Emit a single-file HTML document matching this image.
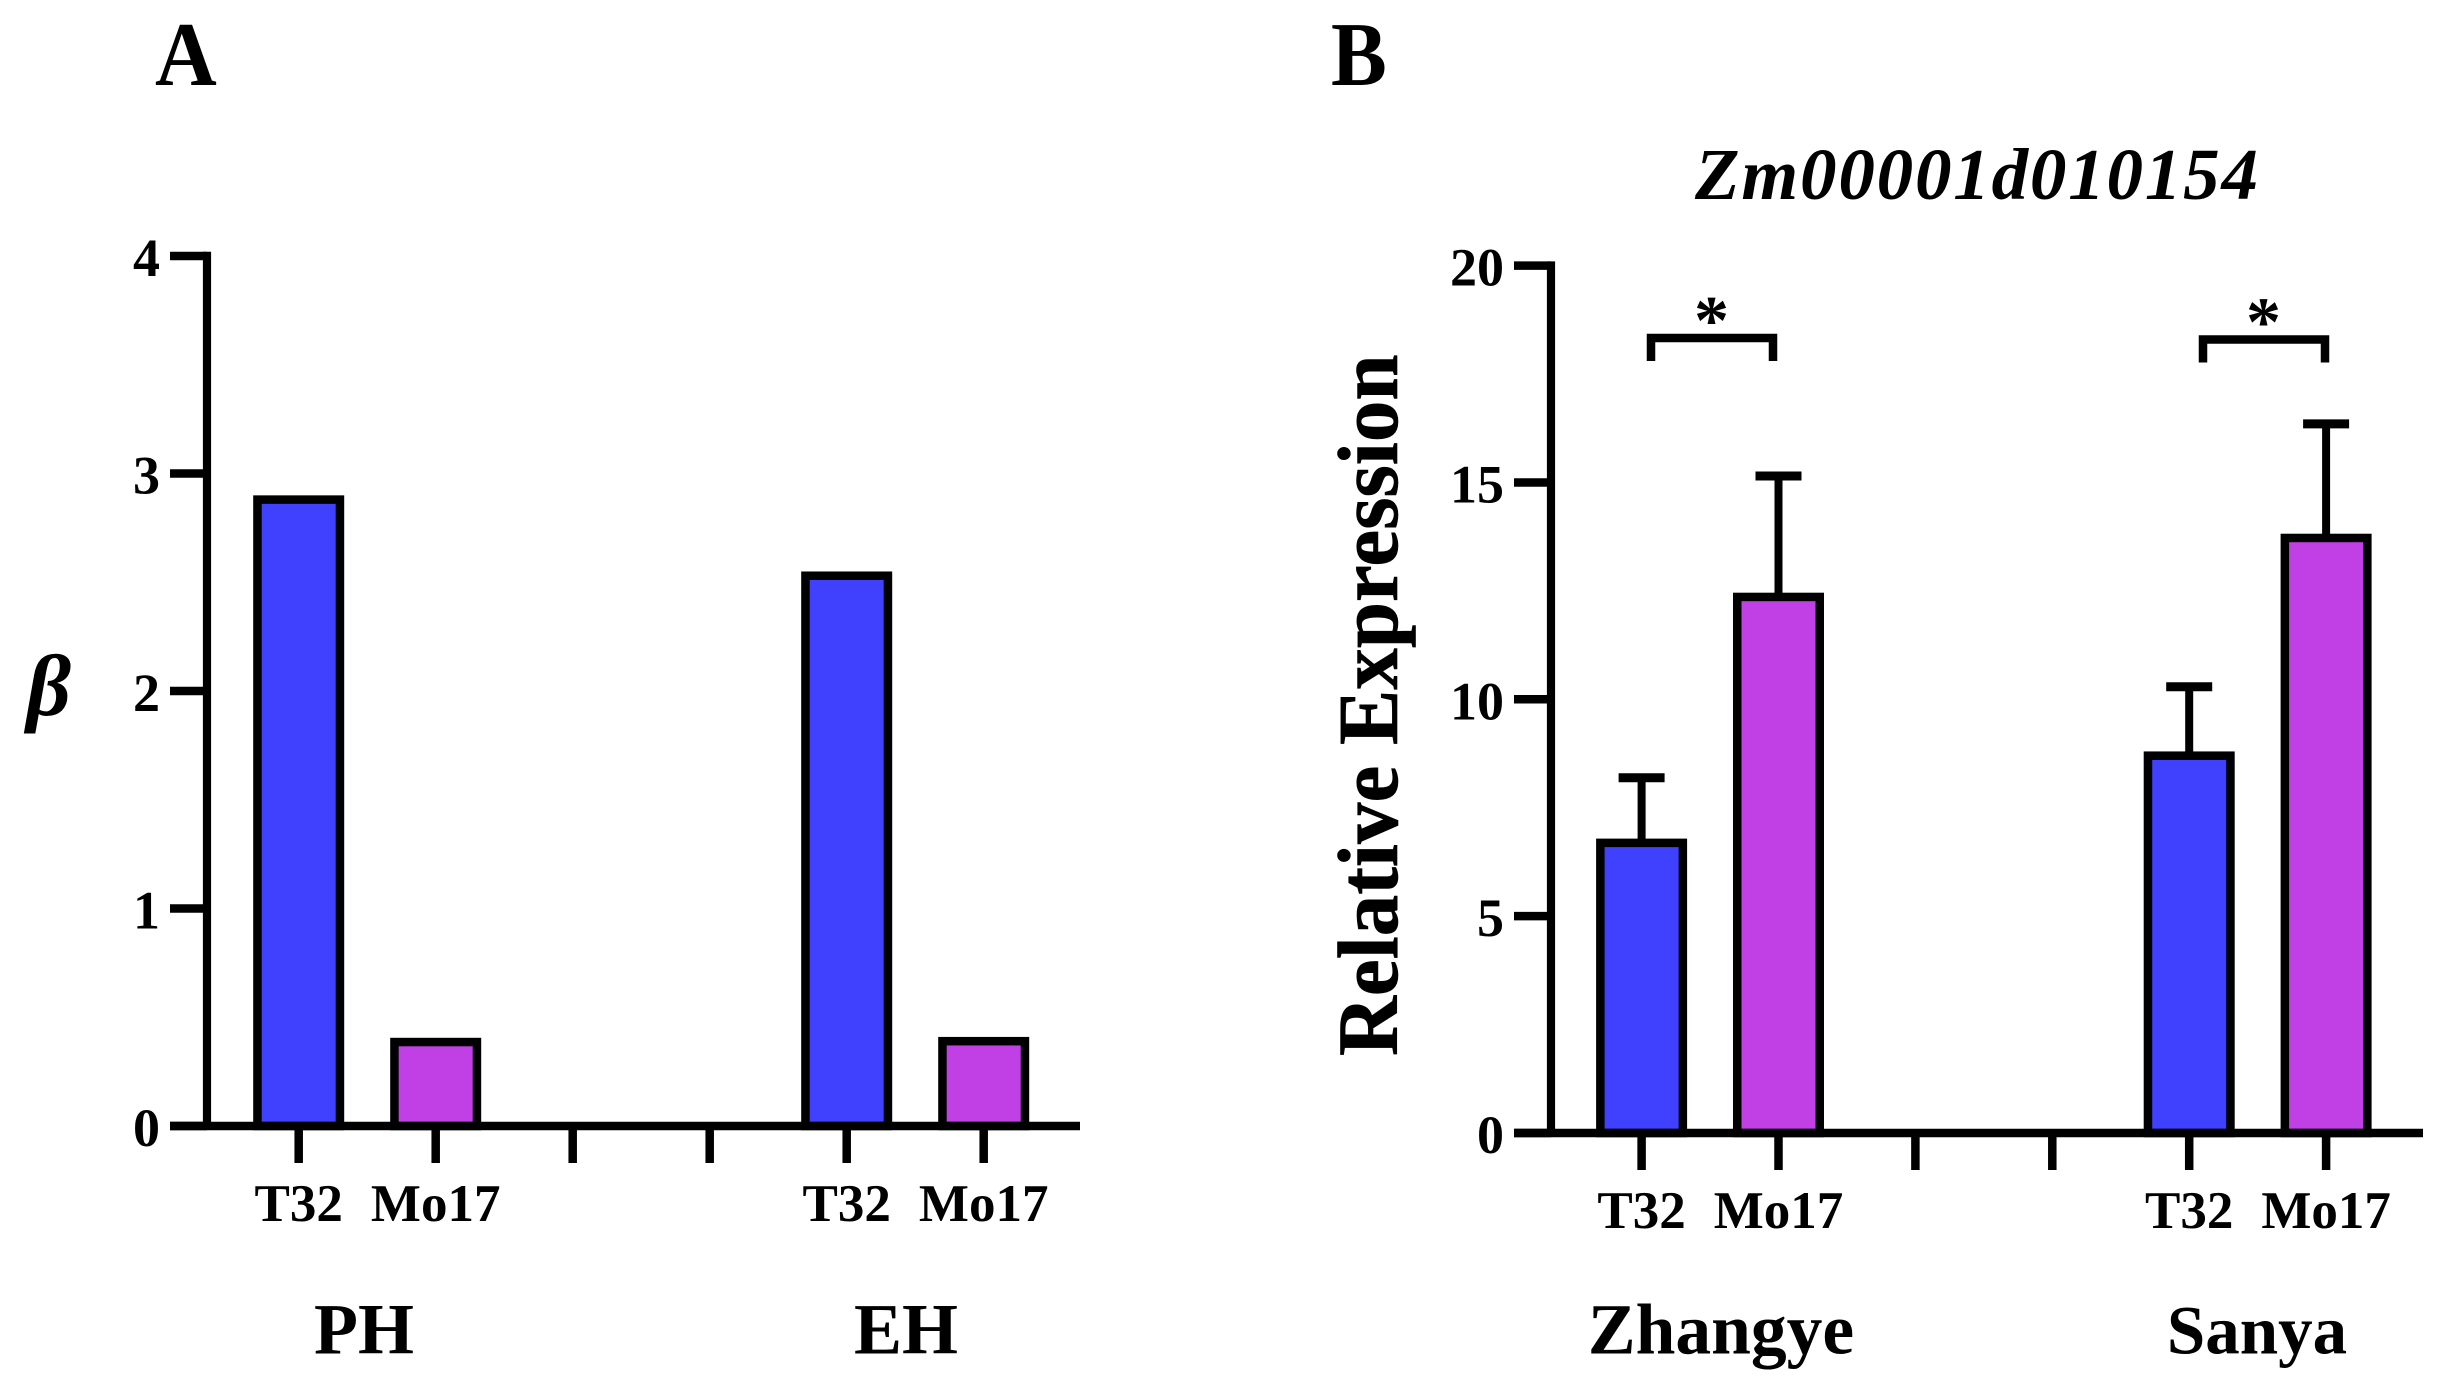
<!DOCTYPE html>
<html>
<head>
<meta charset="utf-8">
<title>Panel chart</title>
<style>
html,body{margin:0;padding:0;background:#fff;}
svg{display:block;}
text{font-family:"Liberation Serif",serif;font-weight:bold;fill:#000;}
</style>
</head>
<body>
<svg id="chart" xmlns="http://www.w3.org/2000/svg" width="2457" height="1398" viewBox="0 0 2457 1398">
<rect width="2457" height="1398" fill="#fff"/>
<text transform="translate(155 85) scale(0.94 1)" font-size="91">A</text>
<text transform="translate(1331 85) scale(0.92 1)" font-size="91">B</text>
<text x="26.5" y="715" font-size="87" font-style="italic">β</text>
<text x="1695" y="199" font-size="73" font-style="italic" textLength="563" lengthAdjust="spacing">Zm00001d010154</text>
<text transform="translate(1397 1056) rotate(-90) scale(1 1.04)" font-size="83" stroke="#000" stroke-width="0.6">Relative Expression</text>
</svg>
<script>
// Panel A data
const aTicks = [0, 1, 2, 3, 4];
const aCategories = ['T32', 'Mo17', '', '', 'T32', 'Mo17'];
const aValues = [2.88, 0.386, null, null, 2.53, 0.39];
const aGroups = ['PH', 'EH'];

// Panel B data
const bTicks = [0, 5, 10, 15, 20];
const bCategories = ['T32', 'Mo17', '', '', 'T32', 'Mo17'];
const bValues = [6.69, 12.36, null, null, 8.7, 13.72];
const bErrors = [1.5, 2.79, null, null, 1.59, 2.63];
const bGroups = ['Zhangye', 'Sanya'];
const bSignificance = ['*', '*'];

const BLUE = '#4040ff';
const PURPLE = '#c040e6';
const NS = 'http://www.w3.org/2000/svg';
const svg = document.getElementById('chart');

function make(tag, attrs) {
  const el = document.createElementNS(NS, tag);
  for (const k in attrs) el.setAttribute(k, attrs[k]);
  svg.appendChild(el);
  return el;
}

function drawPanel(cfg) {
  const y = v => cfg.y0 - (v - cfg.tickValues[0]) * cfg.unit;
  const x = i => cfg.x0 + i * cfg.step;
  const prefix = cfg.prefix;

  // bars and error bars
  cfg.values.forEach((v, i) => {
    if (v === null) return;
    const w = 82.5;
    if (cfg.errors && cfg.errors[i] !== null) {
      const top = y(v + cfg.errors[i]);
      const stem = make('line', {x1: x(i), x2: x(i), y1: y(v), y2: top, stroke: '#000', 'stroke-width': 8});
      
      
      const cap = make('line', {x1: x(i) - 23, x2: x(i) + 23, y1: top, y2: top, stroke: '#000', 'stroke-width': 9});
      
      
    }
    const bar = make('rect', {
      x: x(i) - w / 2, y: y(v), width: w, height: cfg.y0 - y(v),
      fill: i % 2 === 0 ? BLUE : PURPLE, stroke: '#000', 'stroke-width': 8.5
    });
    
    
  });

  // y axis
  const top = y(cfg.tickValues[cfg.tickValues.length - 1]);
  const yAxis = make('line', {x1: cfg.axisX, x2: cfg.axisX, y1: top - 4.2, y2: cfg.y0, stroke: '#000', 'stroke-width': 8.2});
  
  

  cfg.tickValues.forEach(t => {
    const tick = make('line', {x1: cfg.axisX - 37, x2: cfg.axisX, y1: y(t), y2: y(t), stroke: '#000', 'stroke-width': 8.5});
    
    
    const lab = make('text', {x: cfg.axisX - 47, y: y(t) + 20, 'font-size': 54, 'text-anchor': 'end'});
    lab.textContent = t;
    
    
  });

  // x axis
  const xAxis = make('line', {x1: cfg.axisX - 37, x2: cfg.axisRight, y1: cfg.y0, y2: cfg.y0, stroke: '#000', 'stroke-width': 8.5});
  
  

  cfg.categories.forEach((c, i) => {
    const tick = make('line', {x1: x(i), x2: x(i), y1: cfg.y0, y2: cfg.y0 + 37, stroke: '#000', 'stroke-width': 8.5});
    
    
    if (c) {
      const lab = make('text', {x: x(i), y: cfg.y0 + 95, 'font-size': 53, 'text-anchor': 'middle'});
      lab.textContent = c;
      
      
    }
  });

  // group labels
  cfg.groups.forEach((g, i) => {
    const lab = make('text', {x: cfg.groupX[i], y: 1353.5, 'font-size': cfg.groupSize[i], 'text-anchor': 'middle'});
    lab.textContent = g;
    
    
  });
}

drawPanel({
  prefix: 'panel-a', y0: 1126, unit: 217.5, x0: 298.7, step: 137,
  axisX: 207, axisRight: 1080, tickValues: aTicks, categories: aCategories,
  values: aValues, errors: null, groups: aGroups, groupX: [364, 906], groupSize: [72, 72]
});

drawPanel({
  prefix: 'panel-b', y0: 1133, unit: 43.37, x0: 1641.6, step: 136.9,
  axisX: 1551, axisRight: 2423, tickValues: bTicks, categories: bCategories,
  values: bValues, errors: bErrors, groups: bGroups, groupX: [1721, 2257], groupSize: [71.5, 69]
});

// significance brackets
bSignificance.forEach((s, i) => {
  const left = 1651 + i * 552;
  const right = 1773 + i * 552;
  const top = 338 + i * 1.5;
  const bracket = make('path', {
    d: 'M' + left + ' ' + (top + 23) + 'V' + top + 'H' + right + 'V' + (top + 23),
    fill: 'none', stroke: '#000', 'stroke-width': 8.5
  });
  
  
  const star = make('text', {x: (left + right) / 2 - 0.5, y: 344 + i * 1.5, 'font-size': 70, 'text-anchor': 'middle'});
  star.textContent = s;
  
  
});
</script>
</body>
</html>
